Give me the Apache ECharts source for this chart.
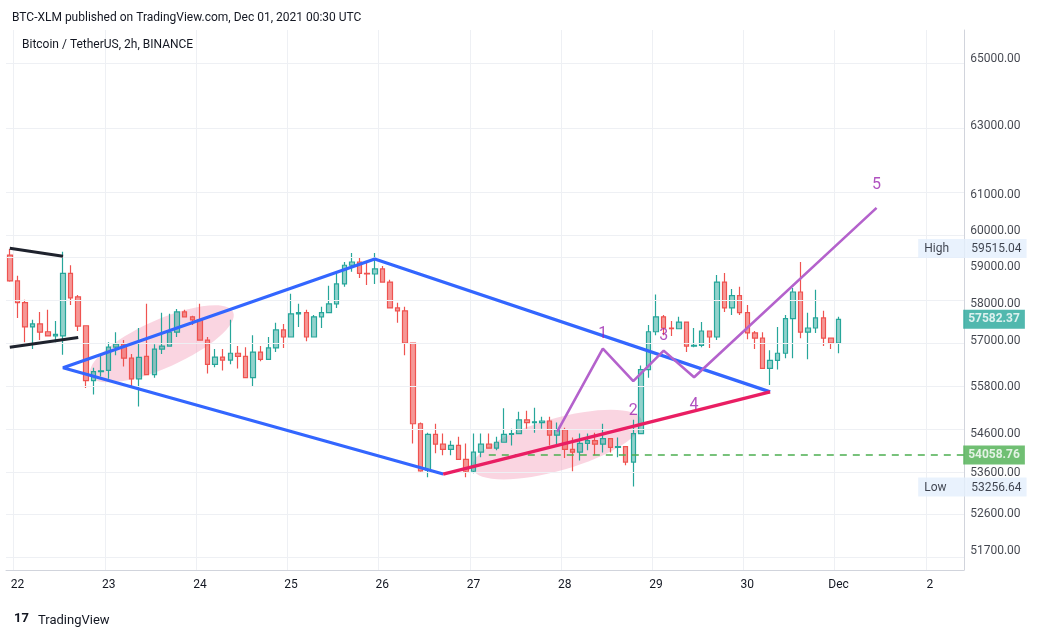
<!DOCTYPE html>
<html><head><meta charset="utf-8">
<script src="https://cdn.jsdelivr.net/npm/echarts@6/dist/echarts.min.js"></script>
<style>html,body{margin:0;padding:0;background:#fff}#c{width:1052px;height:635px}</style>
</head><body><div id="c"></div>
<script>
// 2h candles from 2021-11-21 22:00 to 2021-12-01 00:00
const open  = [59330,58620,58030,57380,57460,57250,57140,57140,58830,58190,57410,55960,56200,56230,56840,56920,56550,56010,56600,56120,56790,56870,57240,57780,57650,57570,57030,
56390,56580,56500,56680,56600,56040,56710,56520,56820,57300,57110,57730,57760,57110,57650,57760,58000,58540,59050,59140,58830,58810,58950,58590,57890,57810,56950,
54850,53680,54580,54330,54200,54300,53950,53650,54130,54330,54230,54380,54580,54600,54950,54880,54880,54920,54560,54700,54200,54130,54350,54420,54330,54470,54250,54270,
53880,54600,56250,57250,57650,57350,57330,57510,56870,56890,57270,57110,58590,57890,58220,57760,57220,57080,56280,56490,56680,57600,58320,57240,57350,57620,57080,56950];
const close = [58620,58030,57380,57460,57240,57140,57180,58830,58160,57400,55960,56200,56220,56840,56920,56550,56010,56570,56120,56790,56870,57240,57780,57650,57570,57030,56390,
56580,56500,56680,56600,56040,56710,56520,56820,57300,57110,57730,57760,57110,57650,57760,58000,58540,59050,59140,58830,58810,58950,58590,57890,57810,56950,54850,
53660,54580,54330,54200,54300,53950,53650,54130,54330,54230,54380,54580,54600,54950,54880,54900,54920,54560,54700,54200,54130,54350,54420,54330,54470,54250,54270,53880,
54600,56250,57250,57650,57350,57330,57510,56870,56890,57270,57110,58590,57890,58220,57760,57220,57080,56280,56490,56680,57600,58320,57240,57350,57620,57080,56950,57582.37];
const high  = [59500,58760,58110,57570,57780,57840,57540,59420,59050,58240,57410,56300,56610,56970,57240,57030,56660,57350,58000,56920,57760,57730,57860,57840,57680,58000,57110,
56790,56790,57570,56870,56840,57160,56870,57110,57490,57460,58270,58000,57840,57700,57920,58490,58830,59140,59390,59250,59110,59390,59030,58650,58030,57920,56950,
54880,54620,54850,54600,54420,54520,54350,54600,54600,54600,54520,55250,54720,55160,55180,55260,55030,55030,54880,54750,54500,54600,54600,54620,54850,54470,54500,54270,
54950,56360,57430,58250,57700,57540,57650,57510,57350,57510,57270,58780,58840,58400,58460,57970,57270,57240,56760,57380,57700,58430,59140,57760,58380,57810,57080,57650];
const low   = [58600,57620,56970,56790,57030,57140,56970,56640,57970,57270,55770,55600,56070,56010,56630,56330,55770,55290,56120,56040,56660,56870,57110,57650,57430,57030,56150,
56310,56230,56390,56280,56040,55800,56470,56520,56710,56820,57110,57380,57000,57110,57350,57760,57890,58460,58870,58700,58510,58540,58590,57890,57490,56630,54350,
53640,53500,54100,54050,54050,53950,53500,53600,54000,54230,54180,54380,54300,54580,54720,54620,54720,54300,54300,53980,53650,53920,54180,54050,54120,54120,54000,53800,
53270,54600,56040,57160,57160,57140,57320,56710,56840,56840,56820,57030,57780,57700,57700,57050,56790,56280,55850,56250,56550,56550,57080,56520,57220,56870,56790,56680];
const priceTicks = [65000,63000,61000,60000,59000,58000,57000,55800,54600,53600,52600,51700];
const dayLabels = {'11-22':'22','11-23':'23','11-24':'24','11-25':'25','11-26':'26','11-27':'27','11-28':'28','11-29':'29','11-30':'30','12-01':'Dec','12-02':'2'};
// drawings: [categoryIndex, price]
const blackTop = [[0,59520],[7,59300]];
const blackBottom = [[0,56840],[9,57100]];
const blueLine = [[56.9,53580],[7.0,56300],[48.2,59220],[100.2,55670]];
const pinkLine = [[56.9,53580],[100.2,55670]];
const purpleWave = [[72.4,54650],[78.2,56800],[82.1,55950],[86.2,56750],[90.3,56050],[114.2,60650]];
const waveLabels = [['1',78.2,57180],['2',82.1,55180],['3',86.2,57130],['4',90.3,55330],['5',114.3,61300]];
const ellipses = [[20,56930,78,24,-24],[71.7,54320,88,26,-16]];
const hlinePrice = 54058.76, highPrice = 59515.04, lowPrice = 53256.64, lastPrice = 57582.37;

const L = Math.log;
const cats = [];
const start = Date.UTC(2021,10,21,22);
for (let i=0;i<126;i++){ const d=new Date(start+i*7200000); cats.push(String(d.getUTCMonth()+1).padStart(2,'0')+'-'+String(d.getUTCDate()).padStart(2,'0')+' '+String(d.getUTCHours()).padStart(2,'0')); }
const isDay = (v)=> v.endsWith(' 00');
const candles = open.map((o,i)=>[L(o),L(close[i]),L(low[i]),L(high[i])]);
const tx = a=>a.map(p=>[p[0],L(p[1])]);
const ch = echarts.init(document.getElementById('c'));
const lineS = (data,color,w,extra)=>Object.assign({type:'line',data:tx(data),symbol:'none',lineStyle:{color,width:w},silent:true,z:5},extra||{});
const lastIdx = cats.length-1;
const boxRich = {a:{backgroundColor:'#e3effd',padding:[4,6,3,6],width:36,color:'#131722',fontSize:12},b:{backgroundColor:'#e3effd',padding:[4,5,3,5],color:'#131722',fontSize:12}};
const axisLabelPts = priceTicks.map(p=>({value:[lastIdx,L(p)],label:{formatter:p.toFixed(2)}})).concat([
  {value:[lastIdx,L(highPrice)],label:{distance:-42,formatter:'{a|High}{b|'+highPrice.toFixed(2)+'}',rich:boxRich}},
  {value:[lastIdx,L(lowPrice)],label:{distance:-42,formatter:'{a|Low}{b|'+lowPrice.toFixed(2)+'}',rich:boxRich}},
  {value:[lastIdx,L(lastPrice)],label:{distance:3,formatter:lastPrice.toFixed(2),backgroundColor:'#26a69a',color:'#fff',fontWeight:'bold',padding:[4,5,3,5]}},
  {value:[lastIdx,L(hlinePrice)],label:{distance:3,formatter:hlinePrice.toFixed(2),backgroundColor:'#4caf50',color:'#fff',fontWeight:'bold',padding:[4,5,3,5]}}
]);
ch.setOption({
  animation:false,
  title:[{text:'BTC-XLM published on TradingView.com, Dec 01, 2021 00:30 UTC',left:7,top:7,textStyle:{fontSize:12,fontWeight:'normal',color:'#131722',fontFamily:'Roboto'}},
         {text:'Bitcoin / TetherUS, 2h, BINANCE',left:17,top:34,textStyle:{fontSize:12,fontWeight:'normal',color:'#131722',fontFamily:'Roboto'}},
         {text:'TradingView',left:33,top:609,textStyle:{fontSize:13,fontWeight:'normal',color:'#131722',fontFamily:'Roboto'}},
         {text:'17',left:9,top:607,textStyle:{fontSize:13,fontWeight:'bold',color:'#131722',fontFamily:'Roboto'}}],
  grid:{left:6,right:88,top:30,bottom:65},
  xAxis:{type:'category',data:cats,boundaryGap:true,
    axisLine:{lineStyle:{color:'#d1d4dc'}},axisTick:{show:false},
    axisLabel:{interval:(i,v)=>isDay(v),formatter:v=>dayLabels[v.slice(0,5)]||'',color:'#131722',fontSize:12,margin:9,fontFamily:'Roboto'},
    splitLine:{show:true,interval:(i,v)=>isDay(v),lineStyle:{color:'#eef0f4'}}},
  yAxis:{type:'value',position:'right',min:L(51240),max:L(65885),scale:true,
    axisLine:{show:true,lineStyle:{color:'#d1d4dc'}},axisLabel:{show:false},axisTick:{show:false},splitLine:{show:false}},
  series:[
    {type:'custom',silent:true,z:1,data:ellipses.map(e=>e),
     renderItem:(params,api)=>{const c=api.coord([api.value(0),L(api.value(1))]);
       return {type:'ellipse',shape:{cx:0,cy:0,rx:api.value(2),ry:api.value(3)},x:c[0],y:c[1],rotation:-api.value(4)*Math.PI/180,style:{fill:'rgba(242,150,180,0.4)'}};},
     encode:{x:0,y:1}},
    {type:'candlestick',data:candles,barWidth:5,z:3,
     itemStyle:{color:'rgba(38,166,154,0.5)',color0:'rgba(239,83,80,0.6)',borderColor:'#26a69a',borderColor0:'#ef5350',borderWidth:1.2},
     markLine:{silent:true,symbol:'none',animation:false,lineStyle:{color:'#eef0f4',type:'solid',width:1},label:{show:false},
       data:priceTicks.map(p=>({yAxis:L(p)}))}},
    {type:'scatter',silent:true,symbolSize:0,clip:false,z:10,data:axisLabelPts,
     label:{show:true,position:'right',distance:10,color:'#131722',fontSize:12,fontFamily:'Roboto'},labelLayout:{hideOverlap:false}},
    lineS([[63.2,hlinePrice],[125.5,hlinePrice]],'#4caf50',1.5,{lineStyle:{color:'#4caf50',width:1.5,type:[7,6]}}),
    lineS(blackTop,'#1e222d',3),
    lineS(blackBottom,'#1e222d',3),
    lineS(blueLine,'#3366ff',3.2),
    lineS(pinkLine,'#e91e63',3.2),
    lineS(purpleWave,'#b462cc',2.6),
    {type:'scatter',silent:true,symbolSize:0,z:6,data:waveLabels.map(w=>[w[1],L(w[2]),w[0]]),
     label:{show:true,formatter:p=>p.data[2],color:'#9c27b0',fontSize:16,fontFamily:'Roboto'}}
  ]
});
</script></body></html>
